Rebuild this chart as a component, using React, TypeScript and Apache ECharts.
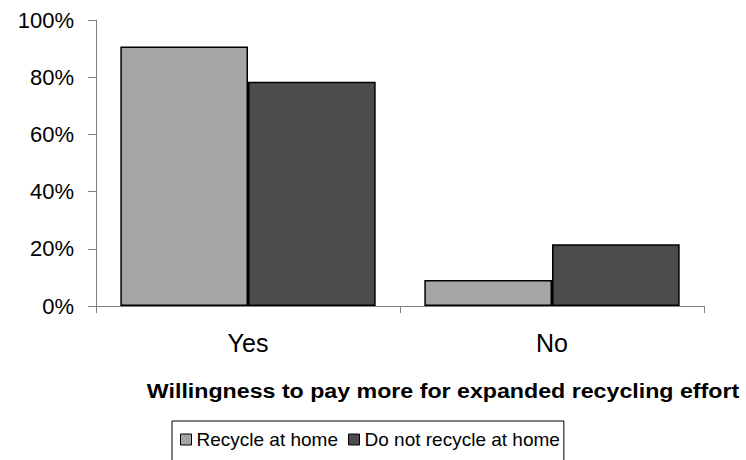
import React, { useEffect, useRef } from "react";
import * as echarts from "echarts";

const categories = ["Yes", "No"];
const recycleAtHome = [90.7, 9.1];
const doNotRecycle = [78.4, 21.6];
const seriesNames = ["Recycle at home", "Do not recycle at home"];
const axisTitle = "Willingness to pay more for expanded recycling effort";

const FONT = "'Liberation Sans', Arial, Helvetica, sans-serif";

export default function App() {
  const ref = useRef<HTMLDivElement>(null);
  useEffect(() => {
    if (!ref.current) return;
    const chart = echarts.init(ref.current, null, { renderer: "svg" });
    chart.setOption({
      animation: false,
      backgroundColor: "#ffffff",
      textStyle: { fontFamily: FONT },
      grid: { left: 96, top: 20, right: 42, bottom: 154, containLabel: false },
      xAxis: {
        type: "category",
        data: categories,
        boundaryGap: true,
        axisLine: { show: true, lineStyle: { color: "#808080", width: 1 } },
        axisTick: { show: true, length: 7, inside: false, lineStyle: { color: "#808080" } },
        axisLabel: { color: "#000", fontSize: 25, fontFamily: FONT, margin: 24 },
        splitLine: { show: false },
      },
      yAxis: {
        type: "value",
        min: 0,
        max: 100,
        interval: 20,
        axisLine: { show: true, lineStyle: { color: "#808080", width: 1 } },
        axisTick: { show: true, length: 8, inside: false, lineStyle: { color: "#808080" } },
        axisLabel: { color: "#000", fontSize: 22, fontFamily: FONT, margin: 22, formatter: "{value}%" },
        splitLine: { show: false },
      },
      legend: {
        left: 172,
        top: 421,
        orient: "horizontal",
        icon: "rect",
        itemWidth: 11,
        itemHeight: 11,
        itemGap: 10,
        borderColor: "#000",
        borderWidth: 1,
        borderRadius: 0,
        padding: [9, 4, 20, 8],
        textStyle: { color: "#000", fontSize: 19, fontFamily: FONT },
        itemStyle: { borderColor: "#000", borderWidth: 1 },
        data: seriesNames,
      },
      graphic: [
        {
          type: "text",
          x: 443,
          y: 391,
          scaleX: 1.16,
          style: {
            text: axisTitle,
            fontSize: 20,
            fontWeight: "bold",
            fontFamily: FONT,
            fill: "#000",
            align: "center",
            verticalAlign: "middle",
          },
        },
      ],
      series: [
        {
          name: seriesNames[0],
          type: "bar",
          data: recycleAtHome,
          barGap: "0%",
          barCategoryGap: "16%",
          itemStyle: { color: "#a5a5a5", borderColor: "#000", borderWidth: 1.5 },
        },
        {
          name: seriesNames[1],
          type: "bar",
          data: doNotRecycle,
          itemStyle: { color: "#4c4c4c", borderColor: "#000", borderWidth: 1.5 },
        },
      ],
    });
    return () => chart.dispose();
  }, []);
  return <div ref={ref} style={{ width: 746, height: 460, position: "absolute", left: 0, top: 0 }} />;
}
